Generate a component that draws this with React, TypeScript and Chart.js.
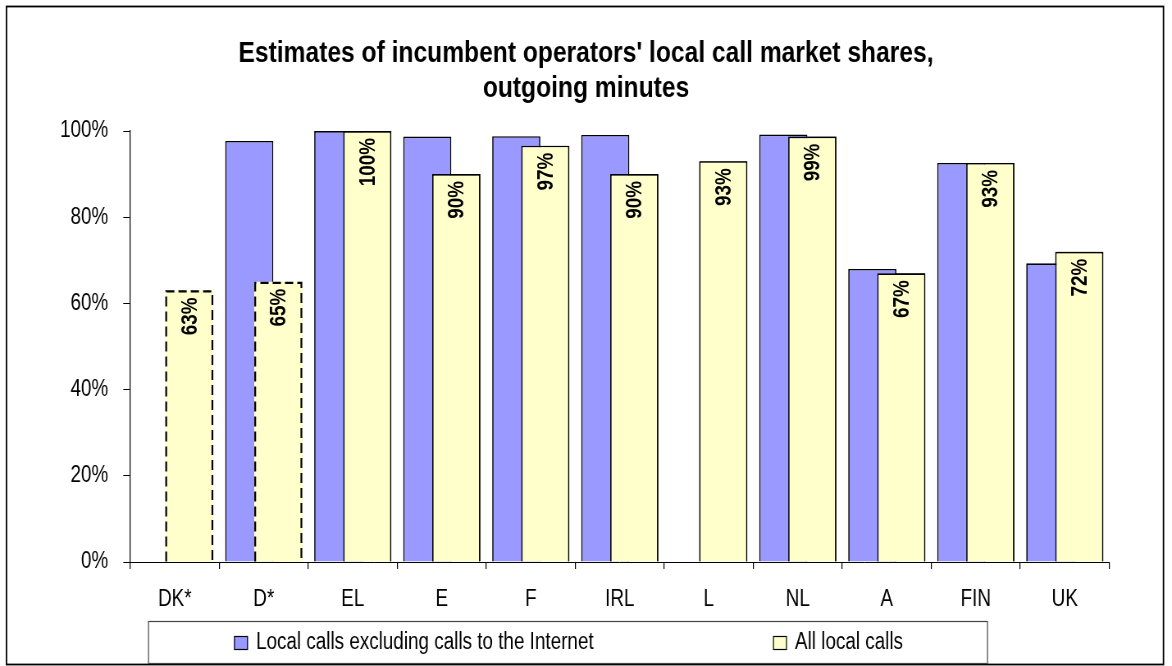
import React, { useEffect, useRef } from 'react';
import { Chart, registerables } from 'chart.js';

Chart.register(...registerables);

// ---------- data ----------
const categories = ['DK*', 'D*', 'EL', 'E', 'F', 'IRL', 'L', 'NL', 'A', 'FIN', 'UK'];
const excludingInternet: (number | null)[] = [null, 97.7, 100, 98.7, 98.8, 99.1, null, 99.2, 68.0, 92.6, 69.3];
const allLocalCalls: number[] = [63, 65, 100, 90, 96.6, 90, 93, 98.7, 67, 92.6, 72];
const estimatedCategories = ['DK*', 'D*'];
const yTickValues = [0, 20, 40, 60, 80, 100];
const seriesLabels = ['Local calls excluding calls to the Internet', 'All local calls'];
const titleLines = ["Estimates of incumbent operators' local call market shares,", 'outgoing minutes'];

// ---------- styles ----------
const BLUE = '#9999FF';
const YELLOW = '#FFFFCC';
const FAMILY = '"Liberation Sans", Arial, sans-serif';

// The canvas is drawn wider and shown compressed horizontally, which gives the
// narrow (Arial Narrow like) lettering of the original.
const VIEW_W = 1172;
const VIEW_H = 666;
const CANVAS_W = 1429;
const SX = VIEW_W / CANVAS_W; // horizontal compression
const wx = (v: number) => v / SX; // view x -> canvas x

export default function App() {
  const ref = useRef<HTMLCanvasElement | null>(null);

  useEffect(() => {
    const canvas = ref.current;
    if (!canvas) return;

    const TXT = 23;
    const TITLE = 30;

    const isDashed = (i: number) => estimatedCategories.includes(categories[i]);

    const framePlugin = {
      id: 'frame',
      afterDraw(chart: any) {
        const ctx = chart.ctx;
        ctx.save();
        ctx.strokeStyle = '#000';
        ctx.lineWidth = 1.8;
        ctx.strokeRect(wx(6.5), 6.5, wx(1157), 658);
        ctx.restore();
      },
    };

    const overlayPlugin = {
      id: 'overlay',
      afterDatasetsDraw(chart: any) {
        const ctx = chart.ctx;
        const meta = chart.getDatasetMeta(1);
        // the "all local calls" bars sit in front of the other series
        ctx.save();
        meta.data.forEach((el: any) => el.draw(ctx, chart.chartArea));
        ctx.restore();

        // dashed outlines for estimated values
        ctx.save();
        ctx.strokeStyle = '#000';
        ctx.lineWidth = 2.2;
        ctx.setLineDash([10, 5]);
        meta.data.forEach((el: any, i: number) => {
          if (!isDashed(i)) return;
          const { x, y, base, width } = el.getProps(['x', 'y', 'base', 'width'], true);
          const l = x - width / 2 + 1.2;
          const r = x + width / 2 - 1.2;
          ctx.beginPath();
          ctx.moveTo(l, base);
          ctx.lineTo(l, y + 1);
          ctx.lineTo(r, y + 1);
          ctx.lineTo(r, base);
          ctx.stroke();
        });
        ctx.restore();

        // rotated value labels (narrow along the text, full height across it)
        ctx.save();
        ctx.fillStyle = '#000';
        ctx.font = `bold ${TXT}px ${FAMILY}`;
        ctx.textAlign = 'right';
        ctx.textBaseline = 'middle';
        meta.data.forEach((el: any, i: number) => {
          const v = allLocalCalls[i];
          if (v == null) return;
          const { x, y } = el.getProps(['x', 'y'], true);
          ctx.save();
          ctx.translate(x + wx(1), y + 7);
          ctx.rotate(-Math.PI / 2);
          ctx.scale(SX, 1 / SX);
          ctx.fillText(`${Math.round(v)}%`, 0, 0);
          ctx.restore();
        });
        ctx.restore();
      },
    };

    const legendPlugin = {
      id: 'boxLegend',
      afterDraw(chart: any) {
        const ctx = chart.ctx;
        ctx.save();
        ctx.strokeStyle = '#444';
        ctx.lineWidth = 1.2;
        ctx.strokeRect(wx(148.5), 621.5, wx(839), 42);
        const items = [
          { x: 234, color: BLUE, text: chart.data.datasets[0].label },
          { x: 773, color: YELLOW, text: chart.data.datasets[1].label },
        ];
        ctx.font = `${TXT}px ${FAMILY}`;
        ctx.textAlign = 'left';
        ctx.textBaseline = 'middle';
        items.forEach((it) => {
          ctx.fillStyle = it.color;
          ctx.fillRect(wx(it.x), 636, wx(14), 14);
          ctx.strokeStyle = '#000';
          ctx.lineWidth = 1.2;
          ctx.strokeRect(wx(it.x + 0.5), 636.5, wx(13), 13);
          ctx.fillStyle = '#000';
          ctx.fillText(it.text, wx(it.x + 22), 643);
        });
        ctx.restore();
      },
    };

    const chart = new Chart(canvas, {
      type: 'bar',
      data: {
        labels: categories,
        datasets: [
          {
            label: seriesLabels[0],
            data: excludingInternet,
            backgroundColor: BLUE,
            borderColor: '#000',
            borderWidth: 1.7,
            categoryPercentage: 0.652,
            barPercentage: 1.66,
          },
          {
            label: seriesLabels[1],
            data: allLocalCalls,
            backgroundColor: YELLOW,
            borderColor: '#000',
            borderWidth: (c: any) => (isDashed(c.dataIndex) ? 0 : 1.7),
            categoryPercentage: 0.652,
            barPercentage: 1.66,
          },
        ],
      },
      options: {
        animation: false,
        responsive: false,
        maintainAspectRatio: false,
        devicePixelRatio: 1,
        layout: { padding: { left: 0, right: 0, top: 0, bottom: 56 } },
        plugins: {
          legend: { display: false },
          tooltip: { enabled: false },
          title: {
            display: true,
            text: titleLines,
            color: '#000',
            font: { family: FAMILY, size: TITLE, weight: 'bold', lineHeight: 35 / TITLE },
            padding: { top: 36.5, bottom: 24.5 },
          },
        },
        scales: {
          x: {
            grid: { drawOnChartArea: false, drawTicks: true, tickLength: 7, color: '#000', lineWidth: 1.2, offset: true },
            border: { display: true, color: '#000', width: 1 },
            ticks: { color: '#000', font: { family: FAMILY, size: TXT }, padding: 17, maxRotation: 0, autoSkip: false },
            afterFit: (s: any) => {
              s.height = 48;
            },
          },
          y: {
            min: 0,
            max: 100,
            afterBuildTicks: (s: any) => {
              s.ticks = yTickValues.map((v) => ({ value: v }));
            },
            grid: { drawOnChartArea: false, drawTicks: true, tickLength: wx(7), color: '#000' },
            border: { display: true, color: '#000', width: 1.2 },
            ticks: { color: '#000', font: { family: FAMILY, size: TXT }, padding: wx(15), callback: (v: any) => `${v}%` },
            afterFit: (s: any) => {
              s.width = wx(130.3);
            },
          },
          // empty right-hand margin (keeps the title centred on the whole chart)
          rightMargin: {
            type: 'linear',
            position: 'right',
            display: true,
            grid: { display: false, drawTicks: false },
            border: { display: false },
            ticks: { display: false },
            afterFit: (s: any) => {
              s.width = wx(62.7);
            },
          },
        },
      },
      plugins: [framePlugin, overlayPlugin, legendPlugin],
    } as any);

    return () => chart.destroy();
  }, []);

  return (
    <canvas
      ref={ref}
      width={CANVAS_W}
      height={VIEW_H}
      style={{ position: 'fixed', left: 0, top: 0, width: VIEW_W, height: VIEW_H, display: 'block', background: '#fff' }}
    />
  );
}
